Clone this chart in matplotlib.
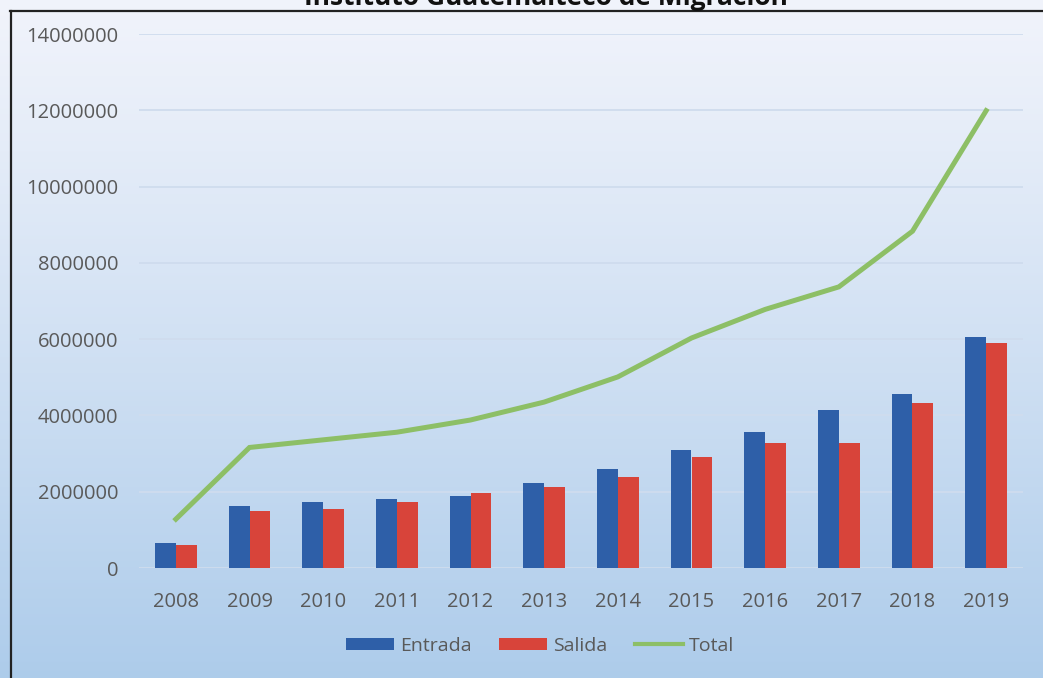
import matplotlib.pyplot as plt
import numpy as np
from matplotlib.lines import Line2D
from matplotlib.patches import Patch

# datos
years = ["2008", "2009", "2010", "2011", "2012", "2013",
         "2014", "2015", "2016", "2017", "2018", "2019"]
entrada = [660000, 1625000, 1740000, 1800000, 1895000, 2235000,
           2600000, 3090000, 3565000, 4130000, 4560000, 6060000]
salida = [605000, 1495000, 1555000, 1730000, 1960000, 2115000,
          2390000, 2910000, 3270000, 3270000, 4320000, 5905000]
total = [1280000, 3160000, 3360000, 3560000, 3880000, 4350000,
         5010000, 6030000, 6780000, 7370000, 8830000, 11990000]
title = "Instituto Guatemalteco de Migración"

BLUE = "#2e5fa8"
RED = "#d8443a"
GREEN = "#8dbf66"
TEXT = "#595959"

plt.rcParams["font.family"] = ["Open Sans", "DejaVu Sans"]

W, H = 1043, 678
fig = plt.figure(figsize=(W / 100, H / 100), dpi=100)

# fondo degradado
bg = fig.add_axes([0, 0, 1, 1], zorder=0)
grad = np.linspace(0, 1, 256)[:, None]
top_c = np.array([0.945, 0.955, 0.985])
bot_c = np.array([0.680, 0.800, 0.920])
img = top_c + (bot_c - top_c) * grad[..., None] ** 1.1
bg.imshow(np.repeat(img, 4, axis=1), aspect="auto", extent=[0, 1, 0, 1])
bg.axis("off")

ax = fig.add_axes([139 / W, 1 - 568 / H, (1023 - 139) / W, (568 - 34) / H], zorder=1)
ax.set_facecolor("none")

x = np.arange(len(years))
w = 0.285
ax.bar(x - w / 2, entrada, w, color=BLUE, zorder=3)
ax.bar(x + w / 2, salida, w, color=RED, zorder=3)
ax.plot(x, total, color=GREEN, linewidth=3.6, zorder=4, solid_joinstyle="miter")

ax.set_xlim(-0.5, len(years) - 0.5)
ax.set_ylim(0, 14000000)
ax.set_yticks(np.arange(0, 14000001, 2000000))
ax.set_yticklabels([f"{v:d}" for v in range(0, 14000001, 2000000)])
ax.set_xticks(x)
ax.set_xticklabels(years)
ax.tick_params(axis="both", length=0, labelsize=14.5, colors=TEXT)
ax.tick_params(axis="y", pad=15)
ax.tick_params(axis="x", pad=17)
ax.grid(axis="y", color="#cfdcee", linewidth=1.3, zorder=0)
for s in ax.spines.values():
    s.set_visible(False)

handles = [
    Patch(facecolor=BLUE, edgecolor="none", label="Entrada"),
    Patch(facecolor=RED, edgecolor="none", label="Salida"),
    Line2D([0], [0], color=GREEN, linewidth=3, label="Total"),
]
fig.legend(handles=handles, loc="center", bbox_to_anchor=(540 / W, 1 - 646 / H),
           ncol=3, frameon=False, fontsize=14, labelcolor=TEXT,
           handlelength=2.5, handleheight=0.6, handletextpad=0.3, columnspacing=1.4)

# titulo cortado arriba y marco
fig.text(546 / W, 1 - 5 / H, title, ha="center", va="baseline",
         fontsize=19, fontweight="bold", color="#111111")
fig.add_artist(Line2D([10 / W, 1], [1 - 10.5 / H] * 2, color="#222222", linewidth=1.6))
fig.add_artist(Line2D([10.5 / W] * 2, [0, 1 - 10.5 / H], color="#222222", linewidth=1.6))

fig.savefig("out.png", dpi=100)
